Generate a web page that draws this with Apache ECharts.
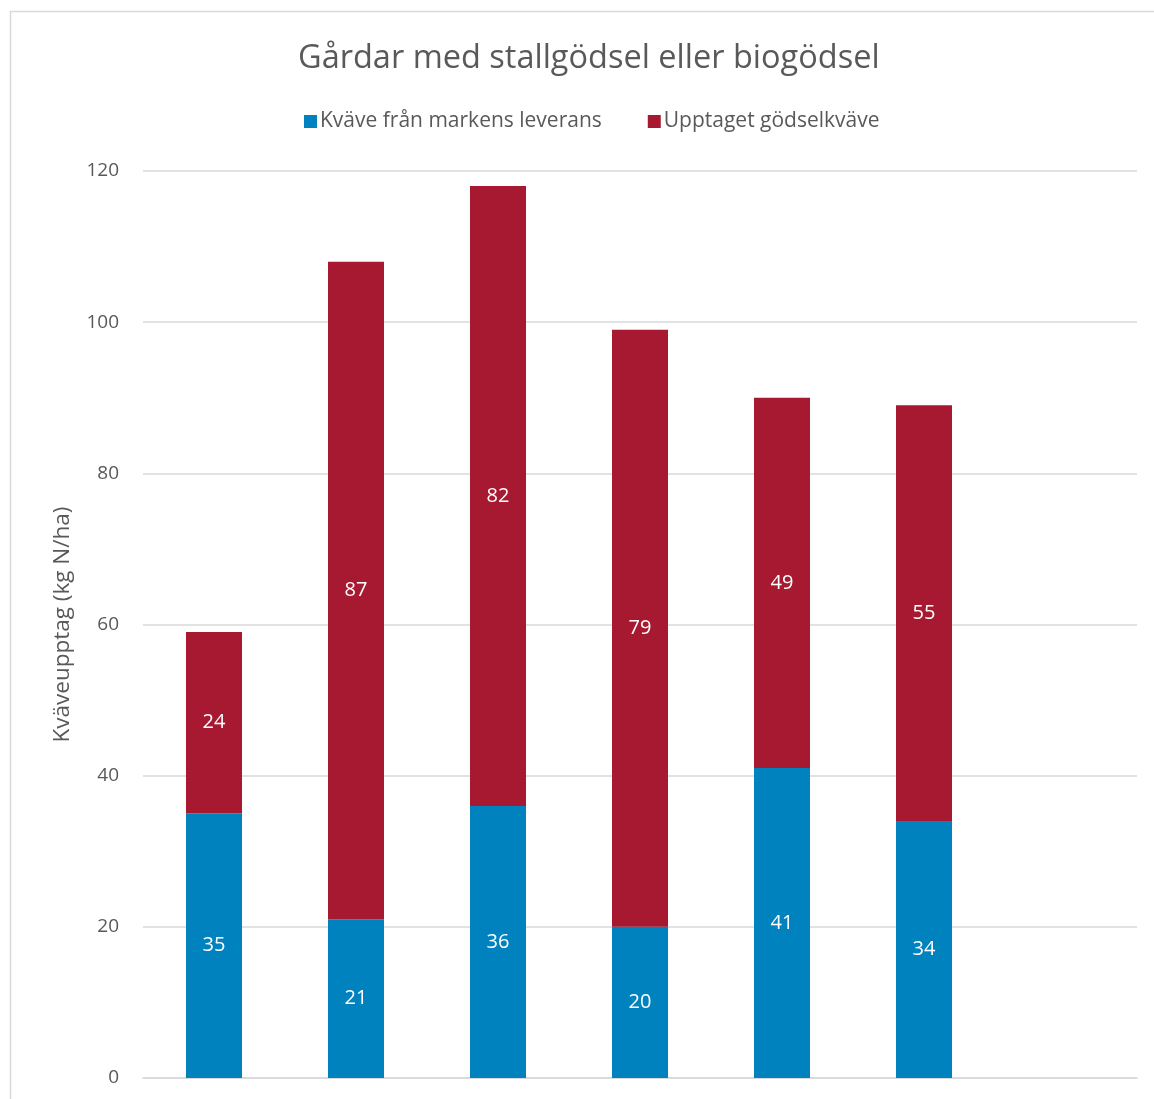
<!DOCTYPE html>
<html>
<head>
<meta charset="utf-8">
<script src="https://cdn.jsdelivr.net/npm/echarts@6/dist/echarts.min.js"></script>
<style>
  html, body { margin: 0; padding: 0; background: #fff; }
  #chart { width: 1154px; height: 1099px; }
</style>
</head>
<body>
<div id="chart"></div>
<script>
// Farms with stable manure or biogas digestate: nitrogen uptake per farm group
const categories = ['A', 'B', 'C', 'D', 'E', 'F', 'G'];
const fromSoil = [35, 21, 36, 20, 41, 34, null];      // Kväve från markens leverans
const fromManure = [24, 87, 82, 79, 49, 55, null];    // Upptaget gödselkväve
const yTicks = { min: 0, max: 120, interval: 20 };

const textColor = '#595959';
const gridColor = '#d9d9d9';
const font = '"Open Sans", sans-serif';

const chart = echarts.init(document.getElementById('chart'));

const labelStyle = {
  show: true,
  position: 'inside',
  color: '#ffffff',
  fontSize: 20,
  fontFamily: font,
  formatter: p => (p.value == null ? '' : String(p.value))
};

chart.setOption({
  animation: false,
  textStyle: { fontFamily: font },
  title: {
    text: 'Gårdar med stallgödsel eller biogödsel',
    left: 298,
    top: 42,
    padding: 0,
    textStyle: { color: textColor, fontSize: 32.5, fontWeight: 'normal', fontFamily: font }
  },
  legend: {
    top: 111,
    left: 304,
    padding: 0,
    itemWidth: 13,
    itemHeight: 13,
    itemGap: 46,
    icon: 'rect',
    textStyle: { color: textColor, fontSize: 21, fontFamily: font, padding: [0, 0, 0, -2] },
    data: ['Kväve från markens leverans', 'Upptaget gödselkväve']
  },
  grid: { left: 143, right: 17, top: 171, bottom: 21, containLabel: false },
  xAxis: {
    type: 'category',
    data: categories,
    axisLine: { show: true, lineStyle: { color: gridColor, width: 1.5 } },
    axisTick: { show: false },
    axisLabel: { show: false }
  },
  yAxis: {
    type: 'value',
    min: yTicks.min,
    max: yTicks.max,
    interval: yTicks.interval,
    name: 'Kväveupptag (kg N/ha)',
    nameLocation: 'middle',
    nameGap: 69,
    nameTextStyle: { color: textColor, fontSize: 22.5, fontFamily: font },
    axisLine: { show: false },
    axisTick: { show: false },
    axisLabel: { color: textColor, fontSize: 19, margin: 24, fontFamily: font },
    splitLine: { lineStyle: { color: gridColor, width: 1.5 } }
  },
  graphic: [{
    type: 'rect',
    shape: { x: 10.5, y: 11.5, width: 1400, height: 1400 },
    style: { fill: 'none', stroke: gridColor, lineWidth: 1.5 },
    silent: true,
    z: -10
  }],
  series: [
    {
      name: 'Kväve från markens leverans',
      type: 'bar',
      stack: 'total',
      barWidth: 56,
      data: fromSoil,
      itemStyle: { color: '#0082BF' },
      label: labelStyle
    },
    {
      name: 'Upptaget gödselkväve',
      type: 'bar',
      stack: 'total',
      barWidth: 56,
      data: fromManure,
      itemStyle: { color: '#A61930' },
      label: labelStyle
    }
  ]
});
</script>
</body>
</html>
